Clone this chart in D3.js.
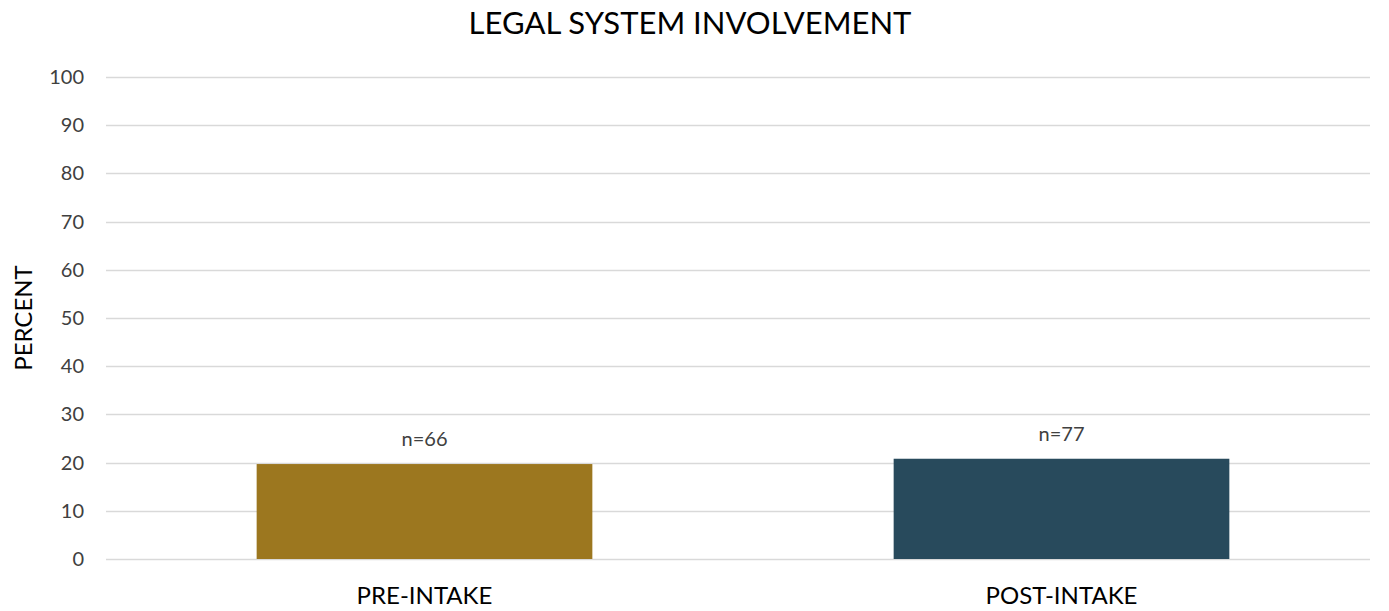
<!DOCTYPE html>
<html>
<head>
<meta charset="utf-8">
<script src="https://cdn.jsdelivr.net/npm/d3@7"></script>
<style>
  body { margin: 0; background: #fff; }
  svg { display: block; font-family: Lato, "Open Sans", sans-serif; }
</style>
</head>
<body>
<svg id="chart" width="1389" height="611"></svg>
<script>
// Share of clients with legal system involvement, before and after intake
const categories = ["PRE-INTAKE", "POST-INTAKE"];
const percents = [19.7, 20.8];
const sampleSizes = ["n=66", "n=77"];
const barColors = ["#9c771f", "#284a5c"];
const yTicks = [0, 10, 20, 30, 40, 50, 60, 70, 80, 90, 100];

const svg = d3.select("#chart");
const margin = { left: 106, right: 9, top: 77, bottom: 52 };
const width = 1389, height = 611;

const x = d3.scaleBand()
  .domain(categories)
  .range([margin.left, width - margin.right])
  .paddingInner(0.473)
  .paddingOuter(0.2365);

const y = d3.scaleLinear()
  .domain([0, 100])
  .range([height - margin.bottom, margin.top]);

// gridlines
svg.append("g")
  .selectAll("line")
  .data(yTicks)
  .join("line")
  .attr("x1", margin.left)
  .attr("x2", width - margin.right - 10)
  .attr("y1", d => Math.round(y(d)) + 0.5)
  .attr("y2", d => Math.round(y(d)) + 0.5)
  .attr("stroke", "#d9d9d9")
  .attr("stroke-width", 1.5);

// y axis labels
const yAxis = d3.axisLeft(y).tickValues(yTicks).tickSize(0).tickPadding(0);
svg.append("g")
  .attr("transform", `translate(${margin.left - 22},0)`)
  .call(yAxis)
  .call(g => g.select(".domain").remove())
  .call(g => g.selectAll("text")
    .attr("font-family", "Lato, 'Open Sans', sans-serif")
    .attr("font-size", 20)
    .attr("fill", "#404040"));

// bars
svg.append("g")
  .selectAll("rect")
  .data(categories)
  .join("rect")
  .attr("x", d => x(d))
  .attr("width", x.bandwidth())
  .attr("y", (d, i) => y(percents[i]))
  .attr("height", (d, i) => y(0) - y(percents[i]))
  .attr("fill", (d, i) => barColors[i]);

// sample size labels
svg.append("g")
  .selectAll("text")
  .data(categories)
  .join("text")
  .attr("x", d => x(d) + x.bandwidth() / 2)
  .attr("y", (d, i) => y(percents[i]) - 18)
  .attr("text-anchor", "middle")
  .attr("font-size", 20)
  .attr("fill", "#404040")
  .text((d, i) => sampleSizes[i]);

// category labels
const xAxis = d3.axisBottom(x).tickSize(0).tickPadding(0);
svg.append("g")
  .attr("transform", `translate(0,${height - margin.bottom + 28})`)
  .call(xAxis)
  .call(g => g.select(".domain").remove())
  .call(g => g.selectAll("text")
    .attr("font-family", "Lato, 'Open Sans', sans-serif")
    .attr("font-size", 24)
    .attr("fill", "#000"));

// axis title
svg.append("text")
  .attr("transform", `translate(32,${(margin.top + height - margin.bottom) / 2}) rotate(-90)`)
  .attr("text-anchor", "middle")
  .attr("font-size", 24)
  .attr("fill", "#000")
  .text("PERCENT");

// chart title
svg.append("text")
  .attr("x", 690)
  .attr("y", 34)
  .attr("text-anchor", "middle")
  .attr("font-size", 31)
  .attr("fill", "#000")
  .text("LEGAL SYSTEM INVOLVEMENT");
</script>
</body>
</html>
